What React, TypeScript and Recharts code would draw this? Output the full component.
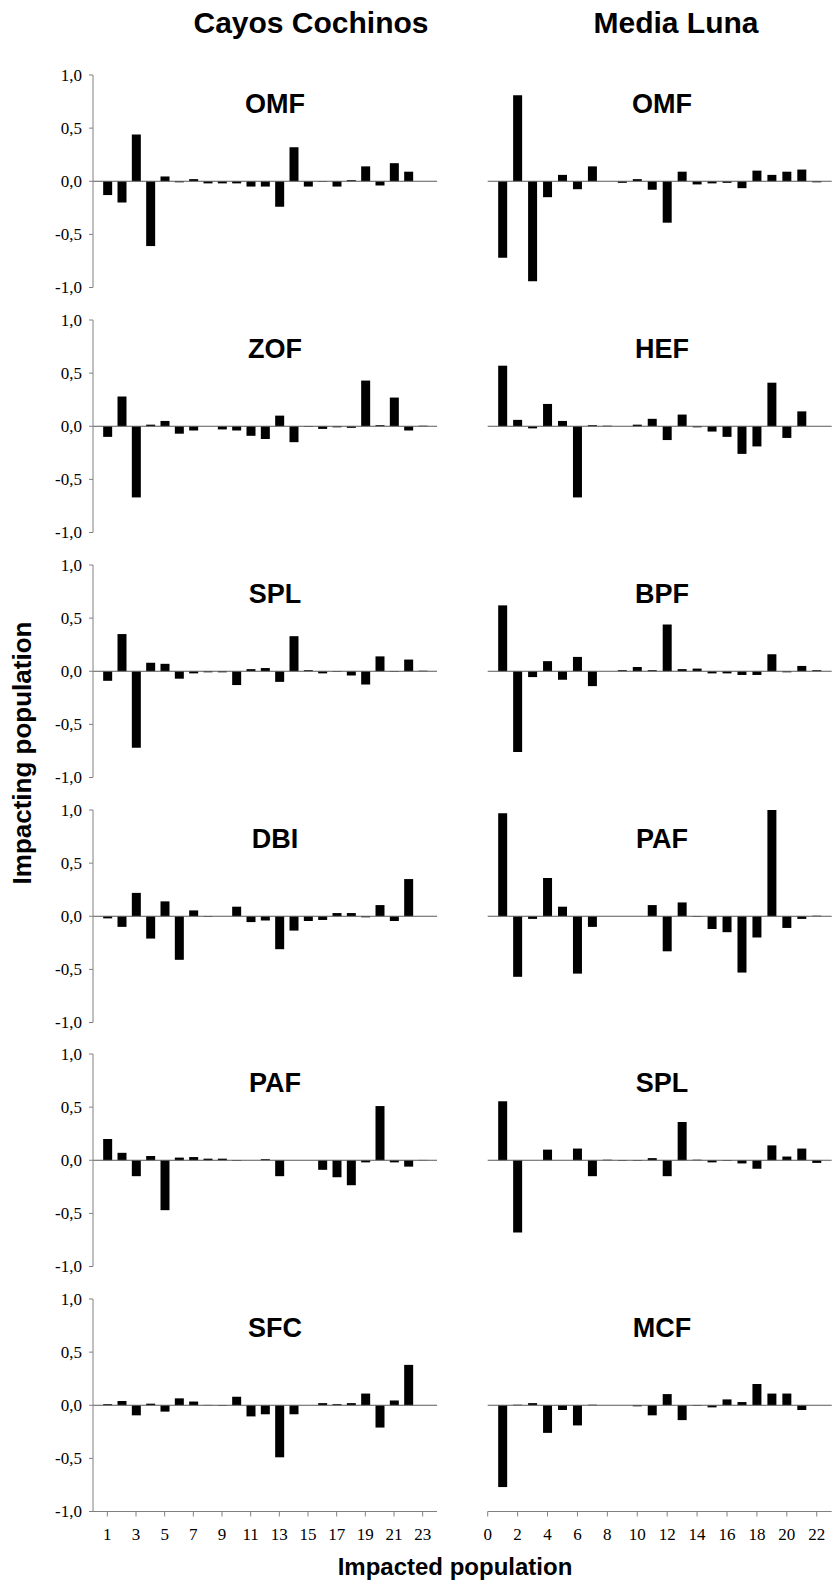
import React from 'react';
import { BarChart, Bar, XAxis, YAxis, ReferenceLine } from 'recharts';

// Categories (impacted population index)
const leftCats = [1, 2, 3, 4, 5, 6, 7, 8, 9, 10, 11, 12, 13, 14, 15, 16, 17, 18, 19, 20, 21, 22, 23];
const rightCats = [1, 2, 3, 4, 5, 6, 7, 8, 9, 10, 11, 12, 13, 14, 15, 16, 17, 18, 19, 20, 21, 22];
const leftTicks = [1, 3, 5, 7, 9, 11, 13, 15, 17, 19, 21, 23];
const rightTicks = [0, 2, 4, 6, 8, 10, 12, 14, 16, 18, 20, 22];
const yTicks = [-1, -0.5, 0, 0.5, 1];

// Cayos Cochinos
const ccOMF = [-0.13, -0.2, 0.44, -0.61, 0.045, -0.01, 0.02, -0.02, -0.02, -0.02, -0.05, -0.05, -0.24, 0.32, -0.05, -0.005, -0.05, 0.01, 0.14, -0.04, 0.17, 0.09, 0];
const ccZOF = [-0.1, 0.28, -0.67, 0.015, 0.05, -0.07, -0.04, 0, -0.03, -0.04, -0.09, -0.12, 0.1, -0.15, -0.005, -0.025, -0.01, -0.015, 0.43, 0.01, 0.27, -0.04, 0.005];
const ccSPL = [-0.09, 0.35, -0.72, 0.08, 0.07, -0.07, -0.02, -0.01, -0.01, -0.13, 0.02, 0.03, -0.1, 0.33, 0.01, -0.02, -0.005, -0.04, -0.125, 0.14, -0.005, 0.11, 0.005];
const ccDBI = [-0.02, -0.1, 0.22, -0.21, 0.14, -0.41, 0.055, -0.005, 0, 0.09, -0.055, -0.04, -0.31, -0.135, -0.045, -0.035, 0.03, 0.03, -0.01, 0.105, -0.045, 0.35, 0];
const ccPAF = [0.2, 0.07, -0.15, 0.04, -0.47, 0.025, 0.03, 0.015, 0.015, -0.005, 0, 0.01, -0.15, 0, 0, -0.09, -0.16, -0.235, -0.02, 0.51, -0.02, -0.06, 0.003];
const ccSFC = [0.01, 0.04, -0.095, 0.015, -0.06, 0.065, 0.035, 0.003, -0.005, 0.08, -0.105, -0.085, -0.49, -0.085, 0, 0.02, 0.01, 0.02, 0.11, -0.21, 0.045, 0.38, 0];

// Media Luna
const mlOMF = [-0.72, 0.81, -0.94, -0.15, 0.06, -0.075, 0.14, 0, -0.015, 0.02, -0.08, -0.39, 0.09, -0.03, -0.02, -0.015, -0.065, 0.1, 0.06, 0.09, 0.11, -0.01];
const mlHEF = [0.57, 0.06, -0.02, 0.21, 0.05, -0.67, 0.01, 0.005, 0, 0.015, 0.07, -0.13, 0.11, -0.01, -0.05, -0.1, -0.26, -0.19, 0.41, -0.11, 0.14, 0];
const mlBPF = [0.62, -0.76, -0.055, 0.095, -0.08, 0.135, -0.14, 0, 0.01, 0.04, 0.01, 0.44, 0.02, 0.025, -0.02, -0.02, -0.035, -0.035, 0.16, -0.01, 0.05, 0.01];
const mlPAF = [0.97, -0.57, -0.025, 0.36, 0.09, -0.54, -0.1, 0, 0, 0, 0.105, -0.33, 0.13, -0.005, -0.12, -0.15, -0.53, -0.2, 1.0, -0.11, -0.025, 0.005];
const mlSPL = [0.555, -0.68, 0, 0.1, 0, 0.11, -0.15, 0.005, -0.005, -0.005, 0.02, -0.15, 0.36, 0.005, -0.02, -0.005, -0.03, -0.08, 0.14, 0.035, 0.11, -0.025];
const mlMCF = [-0.77, 0.005, 0.02, -0.26, -0.045, -0.19, 0.005, 0, 0, -0.01, -0.095, 0.105, -0.14, -0.005, -0.02, 0.055, 0.03, 0.2, 0.11, 0.11, -0.045, 0];

const leftTitles = ['OMF', 'ZOF', 'SPL', 'DBI', 'PAF', 'SFC'];
const rightTitles = ['OMF', 'HEF', 'BPF', 'PAF', 'SPL', 'MCF'];
const leftSeries = [ccOMF, ccZOF, ccSPL, ccDBI, ccPAF, ccSFC];
const rightSeries = [mlOMF, mlHEF, mlBPF, mlPAF, mlSPL, mlMCF];

const ROW0 = 75;
const ROWSTEP = 244.86;
const PLOT_H = 212.5;
const MT = 10;
const AXIS_GRAY = '#808080';
const fmt = (v: number) => v.toFixed(1).replace('.', ',');

function YTick(props: any) {
  const { x, y, payload } = props;
  return (
    <text x={x} y={y} dy="0.35em" textAnchor="end" fill="#000" fontSize={17} fontFamily="'Liberation Serif', 'Times New Roman', serif">
      {fmt(payload.value)}
    </text>
  );
}

function XTick(props: any) {
  const { x, y, payload } = props;
  return (
    <text x={x} y={y} dy="0.71em" textAnchor="middle" fill="#000" fontSize={17} fontFamily="'Liberation Serif', 'Times New Roman', serif">
      {String(payload.value)}
    </text>
  );
}

function Panel({ side, row, values, title }: { side: 'L' | 'R'; row: number; values: number[]; title: string }) {
  const isLeft = side === 'L';
  const cats = isLeft ? leftCats : rightCats;
  const data = cats.map((c, i) => ({ x: c, v: values[i] }));
  const bottom = row === 5;
  const plotTop = ROW0 + row * ROWSTEP;
  const xAxisH = bottom ? 40 : 0;
  const height = MT + PLOT_H + 10 + xAxisH;
  const chartLeft = isLeft ? 0 : 440;
  const width = isLeft ? 440 : 399;
  const margin = isLeft
    ? { top: MT, right: 3, bottom: 10, left: 0 }
    : { top: MT, right: 7.3, bottom: 10, left: 47.7 };
  return (
    <div style={{ position: 'absolute', left: chartLeft, top: plotTop - MT, width, height }}>
      <BarChart width={width} height={height} data={data} margin={margin} barSize={9}>
        <XAxis
          type="number"
          dataKey="x"
          domain={isLeft ? [0, 24] : [0, 23]}
          ticks={isLeft ? leftTicks : rightTicks}
          interval={0}
          hide={!bottom}
          height={xAxisH}
          axisLine={{ stroke: AXIS_GRAY }}
          tickLine={{ stroke: AXIS_GRAY }}
          tickSize={5}
          tickMargin={11}
          tick={<XTick />}
          allowDecimals={false}
        />
        <YAxis
          type="number"
          domain={[-1, 1]}
          ticks={yTicks}
          hide={!isLeft}
          width={93}
          axisLine={{ stroke: AXIS_GRAY }}
          tickLine={{ stroke: AXIS_GRAY }}
          tickSize={4}
          tickMargin={7}
          tick={<YTick />}
          interval={0}
        />
        <ReferenceLine y={0} stroke="#5a5a5a" strokeWidth={1} />
        <Bar dataKey="v" fill="#000" isAnimationActive={false} />
      </BarChart>
      <div
        style={{
          position: 'absolute',
          left: isLeft ? 275 : 222,
          top: MT + 29,
          transform: 'translate(-50%, -50%)',
          fontFamily: 'Liberation Sans, Arial, sans-serif',
          fontWeight: 'bold',
          fontSize: 27,
          color: '#000',
          whiteSpace: 'nowrap',
          lineHeight: 1,
        }}
      >
        {title}
      </div>
    </div>
  );
}

export default function App() {
  const headStyle: React.CSSProperties = {
    position: 'absolute',
    transform: 'translate(-50%, -50%)',
    fontFamily: 'Liberation Sans, Arial, sans-serif',
    fontWeight: 'bold',
    color: '#000',
    whiteSpace: 'nowrap',
    lineHeight: 1,
  };
  return (
    <div style={{ position: 'absolute', left: 0, top: 0, width: 839, height: 1584, background: '#fff', overflow: 'hidden' }}>
      <div style={{ ...headStyle, left: 311, top: 23, fontSize: 30 }}>Cayos Cochinos</div>
      <div style={{ ...headStyle, left: 676, top: 23, fontSize: 30 }}>Media Luna</div>
      {leftSeries.map((s, i) => (
        <Panel key={'L' + i} side="L" row={i} values={s} title={leftTitles[i]} />
      ))}
      {rightSeries.map((s, i) => (
        <Panel key={'R' + i} side="R" row={i} values={s} title={rightTitles[i]} />
      ))}
      <div style={{ ...headStyle, left: 22, top: 753, fontSize: 26, transform: 'translate(-50%, -50%) rotate(-90deg)' }}>
        Impacting population
      </div>
      <div style={{ ...headStyle, left: 455, top: 1567, fontSize: 24 }}>Impacted population</div>
    </div>
  );
}
